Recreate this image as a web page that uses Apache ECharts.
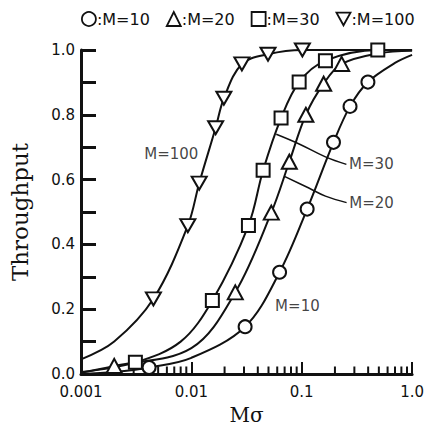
<!DOCTYPE html>
<html>
<head>
<meta charset="utf-8">
<script src="https://cdn.jsdelivr.net/npm/echarts@6/dist/echarts.min.js"></script>
<style>
  html, body { margin: 0; padding: 0; background: #fff; }
  #chart { width: 427px; height: 430px; }
</style>
</head>
<body>
<div id="chart"></div>
<script>
// marker points
var m10X = [0.00414, 0.0307, 0.063, 0.112, 0.194, 0.274, 0.398];
var m10Y = [0.02, 0.146, 0.314, 0.509, 0.715, 0.826, 0.901];
var m20X = [0.002, 0.025, 0.053, 0.0772, 0.109, 0.158, 0.23];
var m20Y = [0.025, 0.252, 0.498, 0.655, 0.80, 0.896, 0.957];
var m30X = [0.00311, 0.0155, 0.0329, 0.0447, 0.065, 0.0948, 0.164, 0.489];
var m30Y = [0.036, 0.227, 0.458, 0.629, 0.79, 0.901, 0.967, 1.0];
var m100X = [0.00453, 0.00929, 0.01178, 0.0166, 0.0197, 0.0287, 0.0495, 0.1014];
var m100Y = [0.232, 0.458, 0.589, 0.760, 0.851, 0.957, 0.987, 1.0];

// extra points on the drawn curves (no marker)
var c10X = [0.001, 0.002, 0.01, 0.7, 1.0];
var c10Y = [0.0, 0.006, 0.05, 0.96, 0.985];
var c20X = [0.001, 0.01, 0.5, 1.0];
var c20Y = [0.004, 0.08, 0.99, 0.998];
var c30X = [0.001, 0.008, 1.0];
var c30Y = [0.006, 0.10, 1.0];
var c100X = [0.001, 0.002, 0.25, 1.0];
var c100Y = [0.045, 0.10, 1.0, 1.0];

// leader lines
var lead30X = [0.0588, 0.0948, 0.164, 0.254];
var lead30Y = [0.740, 0.71, 0.67, 0.647];
var lead20X = [0.0697, 0.116, 0.164, 0.255];
var lead20Y = [0.61, 0.574, 0.549, 0.529];

var names = ['M=10', 'M=20', 'M=30', 'M=100'];
var xLabels = { '0.001': '0.001', '0.01': '0.01', '0.1': '0.1', '1': '1.0' };
var minorTicks = [0.002, 0.003, 0.004, 0.005, 0.006, 0.007, 0.008, 0.009,
  0.02, 0.03, 0.04, 0.05, 0.06, 0.07, 0.08, 0.09,
  0.2, 0.3, 0.4, 0.5, 0.6, 0.7, 0.8, 0.9];

var ink = '#111';
var invTri = 'path://M0,0L10,0L5,9Z';
var icons = ['circle', 'triangle', 'rect', invTri];

function pairs(xs, ys) {
  return xs.map(function(x, i) { return [x, ys[i]]; });
}
function curve(mx, my, cx, cy) {
  return pairs(mx, my).concat(pairs(cx, cy)).sort(function(a, b) { return a[0] - b[0]; });
}

var markers = [pairs(m10X, m10Y), pairs(m20X, m20Y), pairs(m30X, m30Y), pairs(m100X, m100Y)];
var curves = [
  curve(m10X, m10Y, c10X, c10Y),
  curve(m20X, m20Y, c20X, c20Y),
  curve(m30X, m30Y, c30X, c30Y),
  curve(m100X, m100Y, c100X, c100Y)
];

var series = [];
curves.forEach(function(d) {
  series.push({
    type: 'line', data: d, smooth: 0.35, symbol: 'none',
    lineStyle: { color: ink, width: 2 }, z: 2, silent: true
  });
});
markers.forEach(function(d, i) {
  series.push({
    name: names[i], type: 'scatter', data: d, symbol: icons[i],
    symbolSize: i === 3 ? [15, 13] : (i === 1 ? [15, 14] : 13),
    itemStyle: { color: '#fff', borderColor: ink, borderWidth: 2, opacity: 1 }, z: 5
  });
});
[pairs(lead30X, lead30Y), pairs(lead20X, lead20Y)].forEach(function(d) {
  series.push({
    type: 'line', data: d, smooth: 0.4, symbol: 'none',
    lineStyle: { color: ink, width: 1.5 }, z: 3, silent: true
  });
});
// minor ticks on the log axis
series.push({
  type: 'scatter', data: minorTicks.map(function(v) { return [v, 0]; }),
  symbol: 'rect', symbolSize: [2, 7], symbolOffset: [0, -4],
  itemStyle: { color: ink, opacity: 1 }, z: 4, silent: true
});
// curve labels
series.push({
  type: 'scatter', symbol: 'circle', symbolSize: 1, silent: true, z: 6,
  itemStyle: { color: 'rgba(0,0,0,0)' },
  data: [
    { value: [0.0122, 0.68], name: 'M=100', label: { position: 'left' } },
    { value: [0.255, 0.647], name: 'M=30', label: { position: 'right' } },
    { value: [0.256, 0.529], name: 'M=20', label: { position: 'right' } },
    { value: [0.0545, 0.211], name: 'M=10', label: { position: 'right' } }
  ],
  label: {
    show: true, distance: 2, formatter: '{b}',
    color: ink, fontFamily: 'DejaVu Sans', fontSize: 15
  }
});

var chart = echarts.init(document.getElementById('chart'), null, { renderer: 'svg' });
chart.setOption({
  animation: false,
  legend: {
    top: 6, left: 76, itemGap: 16, itemWidth: 14, itemHeight: 14,
    data: names.map(function(n, i) { return { name: n, icon: icons[i] }; }),
    formatter: function(n) { return ':' + n; },
    itemStyle: { color: '#fff', borderColor: ink, borderWidth: 1.8 },
    textStyle: { color: ink, fontFamily: 'DejaVu Sans', fontSize: 16, padding: [0, 0, 0, -4] }
  },
  grid: { left: 79, right: 12, top: 50, bottom: 50 },
  xAxis: {
    type: 'log', logBase: 10, min: 0.001, max: 1,
    name: 'Mσ', nameLocation: 'middle', nameGap: 31,
    nameTextStyle: { color: ink, fontFamily: 'DejaVu Serif', fontSize: 20 },
    axisLine: { lineStyle: { color: ink, width: 3 } },
    axisTick: { inside: true, length: 12, lineStyle: { color: ink, width: 2 } },
    axisLabel: {
      color: ink, fontFamily: 'DejaVu Sans', fontSize: 15, margin: 10,
      formatter: function(v) { return xLabels[String(+v.toPrecision(3))] || ''; }
    },
    splitLine: { show: false }
  },
  yAxis: {
    type: 'value', min: 0, max: 1, interval: 0.2,
    name: 'Throughput', nameLocation: 'middle', nameGap: 50,
    nameTextStyle: { color: ink, fontFamily: 'DejaVu Serif', fontSize: 23 },
    axisLine: { lineStyle: { color: ink, width: 3 } },
    axisTick: { inside: true, length: 15, lineStyle: { color: ink, width: 3 } },
    minorTick: { show: true, splitNumber: 2, length: 15, lineStyle: { color: ink, width: 3 } },
    axisLabel: {
      color: ink, fontFamily: 'DejaVu Sans', fontSize: 15, margin: 6,
      formatter: function(v) { return v.toFixed(1); }
    },
    splitLine: { show: false }
  },
  series: series
});
</script>
</body>
</html>
